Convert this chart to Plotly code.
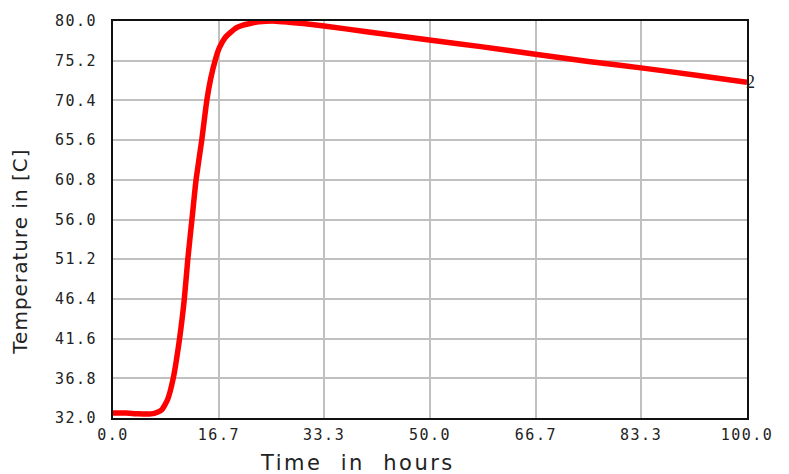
import plotly.graph_objects as go

# Data
time_hours = [0, 2, 4, 6, 7, 7.7, 8.6, 9.5, 10.5, 11.25, 11.8, 12.6, 13.1, 14.0, 14.8,
              15.4, 16.1, 16.8, 17.7, 18.5, 19.5, 20.5, 21.6, 23, 25.2, 27, 30, 33.3,
              40, 48.4, 58, 66.9, 75, 83.6, 92, 100]
temperature_c = [32.6, 32.6, 32.5, 32.5, 32.7, 33.0, 34.2, 36.8, 41.6, 46.4, 51.2, 57.1,
                 60.8, 65.6, 70.4, 73.0, 75.2, 76.8, 78.0, 78.6, 79.2, 79.5, 79.7, 79.9,
                 80.0, 79.9, 79.7, 79.4, 78.7, 77.85, 76.9, 75.95, 75.1, 74.3, 73.45, 72.6]

x_ticks = [0.0, 16.7, 33.3, 50.0, 66.7, 83.3, 100.0]
x_tick_labels = ["0.0", "16.7", "33.3", "50.0", "66.7", "83.3", "100.0"]
y_ticks = [32.0, 36.8, 41.6, 46.4, 51.2, 56.0, 60.8, 65.6, 70.4, 75.2, 80.0]
y_tick_labels = ["32.0", "36.8", "41.6", "46.4", "51.2", "56.0", "60.8", "65.6", "70.4", "75.2", "80.0"]

curve_label = "2"
x_title = "Time\u00a0\u00a0in\u00a0\u00a0hours"
y_title = "Temperature in [C]"

def spaced(s, px=1.5):
    return '<span style="letter-spacing:%spx">' % px + s + '</span>'

fig = go.Figure()
fig.add_trace(go.Scatter(
    x=time_hours, y=temperature_c, mode="lines",
    line=dict(color="#ff0000", width=5.5, shape="spline", smoothing=0.5),
    showlegend=False, hoverinfo="x+y"))

tick_font = dict(family="DejaVu Sans Mono", size=15, color="#222222")
fig.update_layout(
    width=789, height=474,
    margin=dict(l=113, r=42, t=18, b=56),
    paper_bgcolor="white", plot_bgcolor="white",
    xaxis=dict(range=[0, 100], tickmode="array", tickvals=x_ticks,
               ticktext=[spaced(t) for t in x_tick_labels],
               showgrid=True, gridcolor="#c0c0c0", gridwidth=1.5,
               showline=True, linecolor="#111111", linewidth=2, mirror=True,
               zeroline=False, ticks="", tickfont=tick_font, ticklabelstandoff=2),
    yaxis=dict(range=[32, 80], tickmode="array", tickvals=y_ticks,
               ticktext=[spaced(t) for t in y_tick_labels],
               showgrid=True, gridcolor="#c0c0c0", gridwidth=1.5,
               showline=True, linecolor="#111111", linewidth=2, mirror=True,
               zeroline=False, ticks="", tickfont=tick_font, ticklabelstandoff=11),
    annotations=[
        dict(x=time_hours[-1], y=temperature_c[-1], xref="x", yref="y", text=curve_label,
             showarrow=False, xanchor="left", yanchor="middle", xshift=-3,
             font=dict(family="Liberation Serif", size=18, color="#222222")),
        dict(x=0.385, y=-0.113, xref="paper", yref="paper", text=spaced(x_title, 2.5),
             showarrow=False, xanchor="center", yanchor="middle",
             font=dict(family="DejaVu Sans", size=21, color="#222222")),
        dict(x=-0.146, y=0.42, xref="paper", yref="paper", text=spaced(y_title, 1),
             textangle=-90, showarrow=False, xanchor="center", yanchor="middle",
             font=dict(family="DejaVu Sans", size=20, color="#222222")),
    ],
)

fig.write_html("out.html")
